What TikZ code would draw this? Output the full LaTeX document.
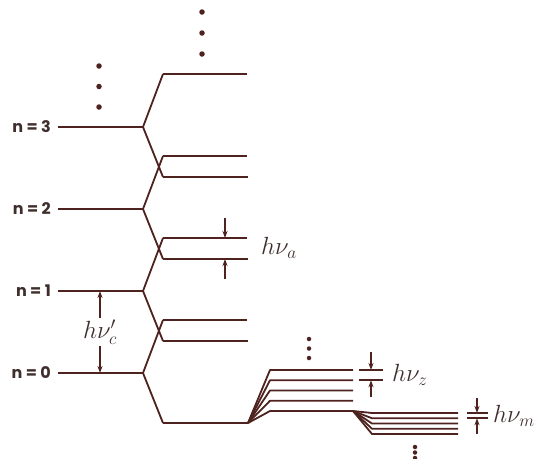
\documentclass[tikz,border=0pt]{standalone}
\usepackage{fontspec}
\newfontfamily\letterfont{Poppins}
\usepackage{tikz}
\usetikzlibrary{arrows.meta, calc, positioning}
\definecolor{ink}{RGB}{78,34,30}
\definecolor{lettering}{RGB}{62,46,44}
\tikzset{%
    level/.style={%
        draw=ink,
        line width=1.8pt,
        line join=round,
    },
    gap/.style={%
        draw=ink,
        line width=1.2pt,
        -{Stealth[length=7pt, width=5pt]},
    },
    nlabel/.style={%
        font=\letterfont\bfseries\fontsize{16}{19}\selectfont,
        text=lettering,
        anchor=east,
        inner sep=0pt,
    },
    freq/.style={%
        font=\fontsize{25}{30}\selectfont,
        text=lettering,
        inner sep=1pt,
    },
    bigdot/.style={%
        circle,
        fill=ink,
        inner sep=0pt,
        minimum size=5.5pt,
    },
    smalldot/.style={%
        circle,
        fill=ink,
        inner sep=0pt,
        minimum size=4.5pt,
    },
}

\begin{document}
\begin{tikzpicture}[x=1pt, y=-1pt]
	\useasboundingbox (0,0) rectangle (546,458);

	% ladder of levels n = 0 ... 3 and their splitting
	\foreach \n/\y in {0/373, 1/291, 2/209, 3/127} {
		\node [nlabel] (label\n) at (51,\y) {n = \n};
		\coordinate (start\n) at (58,\y);
		\coordinate (fork\n) at (143,\y);
		\coordinate (upper\n) at (163,\y-53);
		\coordinate (lower\n) at (163,\y+50);
		\draw[level] (start\n) -- (fork\n);
		\draw[level] (upper\n) -- (fork\n) -- (lower\n);
		\draw[level] (upper\n) -- ++(84,0) coordinate (end upper\n);
		\draw[level] (lower\n) -- ++(85,0) coordinate (end lower\n);
	}

	\foreach \k in {0,1,2} {
		\node [bigdot] (far dot\k) at (202,12+21*\k) {};
		\node [bigdot] (near dot\k) at (99,66+20.5*\k) {};
	}

	% h nu_a between neighbouring branches
	\coordinate (nu a top) at (225,218);
	\coordinate (nu a bottom) at (225,279);
	\draw[gap] (nu a top) -- (nu a top |- upper1);
	\draw[gap] (nu a bottom) -- (nu a bottom |- lower2);
	\node [freq, anchor=west] (nu a) at (260,248) {$h\nu_a$};

	% h nu'_c between n = 1 and n = 0
	\node [freq] (nu c) at (100,332) {$h\nu'_c$};
	\draw[gap] (nu c.north) -- (nu c.north |- start1);
	\draw[gap] (nu c.south) -- (nu c.south |- start0);

	% fan of the lowest level
	\foreach \k in {0,...,4} {
		\coordinate (zeeman\k) at (270,370+10.25*\k);
		\draw[level] (end lower0) -- (zeeman\k) -- ++(83,0);
	}
	\coordinate (mfork) at ($(zeeman4)+(83,0)$);
	\foreach \k in {0,...,4} {
		\coordinate (hyper\k) at (372,413+5.25*\k);
		\draw[level] (mfork) -- (hyper\k) -- ++(86,0);
	}

	\foreach \k in {0,1,2} {
		\node [smalldot] (zeeman dot\k) at (309,339+9.5*\k) {};
		\node [smalldot] (hyper dot\k) at (415,447+5.5*\k) {};
	}

	% h nu_z marker
	\draw[level] ($(zeeman0)+(89,0)$) coordinate (z top) -- ++(24,0);
	\draw[level] ($(zeeman1)+(89,0)$) coordinate (z bottom) -- ++(24,0);
	\draw[gap] ($(z top)+(12,-18)$) -- ($(z top)+(12,0)$);
	\draw[gap] ($(z bottom)+(12,17)$) -- ($(z bottom)+(12,0)$);
	\node [freq, anchor=west] (nu z) at ($(z top)+(32,5)$) {$h\nu_z$};

	% h nu_m marker
	\draw[level] ($(hyper0)+(95,0)$) coordinate (m top) -- ++(21,0);
	\draw[level] ($(hyper1)+(95,0)$) coordinate (m bottom) -- ++(21,0);
	\draw[gap] ($(m top)+(10,-15)$) -- ($(m top)+(10,0)$);
	\draw[gap] ($(m bottom)+(10,16)$) -- ($(m bottom)+(10,0)$);
	\node [freq, anchor=west] (nu m) at ($(m top)+(25,3)$) {$h\nu_m$};
\end{tikzpicture}
\end{document}
